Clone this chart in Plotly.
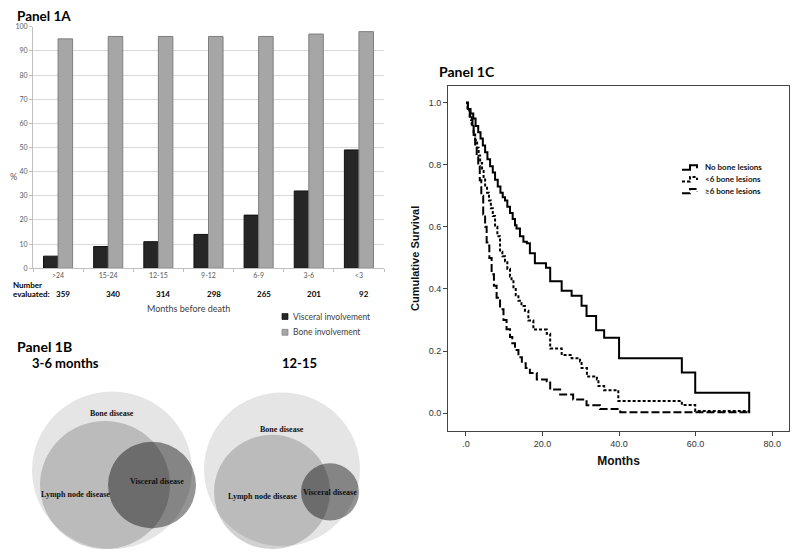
import plotly.graph_objects as go

# The page body has an 8px margin, so the figure is drawn 8px right/down of the
# window corner; reference pixel (x, y) maps to figure pixel (x-8, y-8).
W, H = 792, 550
OFF = 8


def px(x):
    return (x - OFF) / W


def py(y):
    return 1 - (y - OFF) / H


# ---------------- Panel 1A data ----------------
categories = [">24", "15-24", "12-15", "9-12", "6-9", "3-6", "<3"]
visceral_pct = [5, 9, 11, 14, 22, 32, 49]
bone_pct = [95, 96, 96, 96, 96, 97, 98]
number_evaluated = [359, 340, 314, 298, 265, 201, 92]
bar_series = ["Visceral involvement", "Bone involvement"]

# ---------------- Panel 1B (Venn geometry, in pixel units) ----------------
venn_sets = ["Bone disease", "Lymph node disease", "Visceral disease"]
venn_titles = ["3-6 months", "12-15"]
venn_a_cx = [112, 105, 152]
venn_a_cy = [472, 487, 487]
venn_a_r = [80, 65, 44]
venn_a_label_x = [112, 75, 157]
venn_a_label_y = [414, 497, 483]
venn_b_cx = [282, 272, 330]
venn_b_cy = [471, 494, 494]
venn_b_r = [78, 58, 29]
venn_b_label_x = [282, 262, 330]
venn_b_label_y = [431, 499, 495]

# ---------------- Panel 1C data (Kaplan-Meier) ----------------
km_names = ["No bone lesions", "<6 bone lesions", "\u22656 bone lesions"]
nobone_t = [0, 0.5, 1.2, 1.9, 2.5, 3.2, 3.8, 4.4, 5.0, 5.6, 6.3, 7.0, 7.6, 8.3, 9.0,
            9.6, 10.2, 10.8, 11.5, 12.2, 12.8, 13.2, 14.1, 15.0, 15.9, 16.7, 18.0,
            20.9, 22.0, 25.0, 27.6, 30.2, 31.5, 34.0, 36.1, 40.0, 56.4, 59.9, 74.0]
nobone_s = [1.0, 0.98, 0.965, 0.949, 0.925, 0.905, 0.885, 0.862, 0.84, 0.818, 0.795,
            0.775, 0.752, 0.73, 0.71, 0.695, 0.685, 0.665, 0.645, 0.625, 0.605, 0.595,
            0.57, 0.552, 0.547, 0.515, 0.483, 0.468, 0.425, 0.394, 0.378, 0.346, 0.313,
            0.267, 0.243, 0.177, 0.131, 0.066, 0.0]
lt6_t = [0, 0.4, 1.0, 1.5, 2.0, 2.4, 2.9, 3.3, 3.7, 4.2, 4.6, 5.0, 5.5, 6.0, 6.5, 7.0,
         7.6, 8.2, 8.9, 9.5, 10.2, 10.8, 11.5, 11.9, 12.4, 13.0, 13.7, 14.5, 15.4, 16.3,
         17.6, 21.1, 22.0, 25.0, 27.6, 29.8, 30.2, 31.6, 34.2, 34.6, 36.1, 39.8, 56.4,
         59.9, 74.0]
lt6_s = [1.0, 0.975, 0.954, 0.93, 0.905, 0.88, 0.855, 0.83, 0.806, 0.78, 0.757, 0.733,
         0.71, 0.685, 0.66, 0.635, 0.6, 0.57, 0.52, 0.505, 0.489, 0.465, 0.44, 0.425, 0.4,
         0.38, 0.362, 0.345, 0.33, 0.298, 0.269, 0.256, 0.208, 0.187, 0.177, 0.166,
         0.145, 0.118, 0.108, 0.087, 0.074, 0.039, 0.026, 0.007, 0.007]
ge6_t = [0, 0.5, 1.0, 1.3, 1.7, 2.0, 2.4, 2.8, 3.2, 3.6, 4.0, 4.5, 5.0, 5.4, 5.6, 6.1,
         6.7, 7.3, 8.0, 8.9, 9.8, 10.6, 11.5, 12.1, 12.8, 13.7, 14.6, 15.6, 16.7, 18.5,
         21.1, 22.0, 24.6, 28.0, 31.5, 35.0, 40.3, 74.0]
ge6_s = [1.0, 0.975, 0.955, 0.944, 0.915, 0.89, 0.859, 0.83, 0.796, 0.75, 0.70, 0.64,
         0.60, 0.55, 0.54, 0.5, 0.447, 0.41, 0.372, 0.335, 0.3, 0.27, 0.245, 0.225, 0.203,
         0.18, 0.161, 0.145, 0.129, 0.108, 0.103, 0.076, 0.06, 0.044, 0.025, 0.013, 0.003,
         0.003]
km_xticks = [0, 20, 40, 60, 80]
km_xticktext = [".0", "20.0", "40.0", "60.0", "80.0"]
km_yticks = [0.0, 0.2, 0.4, 0.6, 0.8, 1.0]

EXCEL_FONT = "Lato, Carlito, Calibri, sans-serif"
SPSS_FONT = "Arial, Liberation Sans, sans-serif"
TIMES_FONT = "Times New Roman, Liberation Serif, serif"

bar_fill = ["#262626", "#a6a6a6"]
bar_edge = ["#111111", "#7f7f7f"]

fig = go.Figure()

# ---- Panel 1A bars ----
for name, vals, fc, ec in zip(bar_series, [visceral_pct, bone_pct], bar_fill, bar_edge):
    fig.add_trace(go.Bar(x=categories, y=vals, name=name,
                         marker=dict(color=fc, line=dict(color=ec, width=1)),
                         showlegend=False, xaxis="x", yaxis="y"))

# ---- Panel 1C Kaplan-Meier ----
km_dash = ["solid", "3px,2px", "8px,3px"]
for t, s, dash, name in zip([nobone_t, lt6_t, ge6_t], [nobone_s, lt6_s, ge6_s], km_dash, km_names):
    fig.add_trace(go.Scatter(x=t, y=s, mode="lines", name=name, showlegend=False,
                             line=dict(shape="hv", color="black", width=2, dash=dash),
                             xaxis="x2", yaxis="y2"))

# ---- Panel 1B Venn (invisible helper axes in pixel units) ----
fig.add_trace(go.Scatter(x=[None], y=[None], mode="markers", showlegend=False,
                         xaxis="x3", yaxis="y3", hoverinfo="skip"))

shapes = []
annotations = []
venn_fills = ["rgba(0,0,0,0.10)", "rgba(0,0,0,0.18)", "rgba(0,0,0,0.42)"]
for cxs, cys, rs, lxs, lys in [(venn_a_cx, venn_a_cy, venn_a_r, venn_a_label_x, venn_a_label_y),
                               (venn_b_cx, venn_b_cy, venn_b_r, venn_b_label_x, venn_b_label_y)]:
    for cx, cy, r, fill in zip(cxs, cys, rs, venn_fills):
        shapes.append(dict(type="circle", xref="x3", yref="y3", x0=cx - r, x1=cx + r,
                           y0=cy - r, y1=cy + r, fillcolor=fill, line=dict(width=0),
                           layer="above"))
    for lab, lx, ly in zip(venn_sets, lxs, lys):
        annotations.append(dict(text=lab, x=lx, y=ly, xref="x3", yref="y3", showarrow=False,
                                font=dict(family=TIMES_FONT, size=8, color="#111111",
                                          weight="bold")))


def txt(text, x, y, size, bold=False, color="#000000", family=EXCEL_FONT, xanchor="left",
        yanchor="middle"):
    annotations.append(dict(text=text, x=px(x), y=py(y), xref="paper", yref="paper",
                            xanchor=xanchor, yanchor=yanchor, showarrow=False,
                            font=dict(family=family, size=size, color=color,
                                      weight="bold" if bold else "normal")))


# ---- Bar legend (small squares + text, Excel style) ----
for name, yc, fc, ec in zip(bar_series, [316, 332], bar_fill, bar_edge):
    shapes.append(dict(type="rect", xref="paper", yref="paper",
                       x0=px(282), x1=px(288), y0=py(yc + 3), y1=py(yc - 3),
                       fillcolor=fc, line=dict(color=ec, width=0.7)))
    txt(name, 291, yc, 8.5, color="#404040")

# ---- KM legend (step glyphs + text) ----
legend_rows = [164.5, 176.5, 188.5]
for name, yc, dash in zip(km_names, legend_rows, km_dash):
    path = "M {:.5f},{:.5f} H {:.5f} V {:.5f} H {:.5f} V {:.5f}".format(
        px(682), py(yc + 2.5), px(690), py(yc - 2), px(697), py(yc + 1))
    shapes.append(dict(type="path", xref="paper", yref="paper", path=path,
                       line=dict(color="black", width=2, dash=dash)))
    txt(name, 703, yc, 8, bold=True, color="#111111")

# ---- Other texts ----
txt("Panel 1A", 15, 11, 13.5, bold=True)
txt("%", 13, 174, 9, color="#595959", xanchor="center")
txt("Number", 11, 284, 8, bold=True)
txt("evaluated:", 11, 293, 8, bold=True)
for cat, n in zip(categories, number_evaluated):
    annotations.append(dict(text=str(n), x=cat, y=py(293), xref="x", yref="paper",
                            xshift=5, showarrow=False, yanchor="middle",
                            font=dict(family=EXCEL_FONT, size=8, color="#000000",
                                      weight="bold")))
txt("Months before death", 188, 308, 9, color="#404040", xanchor="center")
txt("Panel 1B", 15, 346, 14, bold=True)
txt(venn_titles[0], 30, 363, 13, bold=True)
txt(venn_titles[1], 280, 363, 13, bold=True)
txt("Panel 1C", 437, 67, 14, bold=True)

fig.update_layout(
    width=W, height=H,
    margin=dict(l=0, r=0, t=0, b=0),
    paper_bgcolor="white", plot_bgcolor="white",
    barmode="group", bargap=0.42, bargroupgap=0,
    showlegend=False,
    xaxis=dict(domain=[px(33), px(384)], anchor="y", type="category",
               showline=True, linecolor="#bfbfbf", ticks="outside", tickson="boundaries",
               ticklen=3, tickcolor="#bfbfbf", showgrid=False,
               tickfont=dict(family=EXCEL_FONT, size=7, color="#595959")),
    yaxis=dict(domain=[py(267), py(22)], anchor="x", range=[0, 100], dtick=10,
               showgrid=True, gridcolor="#d9d9d9", zeroline=False,
               showline=True, linecolor="#bfbfbf", ticks="outside", ticklen=3,
               tickcolor="#bfbfbf",
               tickfont=dict(family=EXCEL_FONT, size=7, color="#595959")),
    xaxis2=dict(domain=[px(448), px(789)], anchor="y2", range=[-4.7, 84.4],
                tickvals=km_xticks, ticktext=km_xticktext,
                showline=True, mirror=True, linecolor="#444444", linewidth=1,
                ticks="outside", ticklen=4, tickcolor="#444444",
                showgrid=False, zeroline=False,
                tickfont=dict(family=SPSS_FONT, size=9, color="#333333"),
                title=dict(text="Months", standoff=8,
                           font=dict(family=SPSS_FONT, size=12, color="#111111",
                                     weight="bold"))),
    yaxis2=dict(domain=[py(432), py(82)], anchor="x2", range=[-0.057, 1.054],
                tickvals=km_yticks, tickformat=".1f",
                showline=True, mirror=True, linecolor="#444444", linewidth=1,
                ticks="outside", ticklen=4, tickcolor="#444444",
                showgrid=False, zeroline=False,
                tickfont=dict(family=SPSS_FONT, size=9, color="#333333"),
                title=dict(text="Cumulative Survival", standoff=6,
                           font=dict(family=SPSS_FONT, size=11, color="#111111",
                                     weight="bold"))),
    xaxis3=dict(domain=[px(8), px(400)], anchor="y3", range=[8, 400], visible=False,
                fixedrange=True),
    yaxis3=dict(domain=[0, py(370)], anchor="x3", range=[558, 370], visible=False,
                fixedrange=True),
    shapes=shapes,
    annotations=annotations,
)

fig.write_html("out.html")
